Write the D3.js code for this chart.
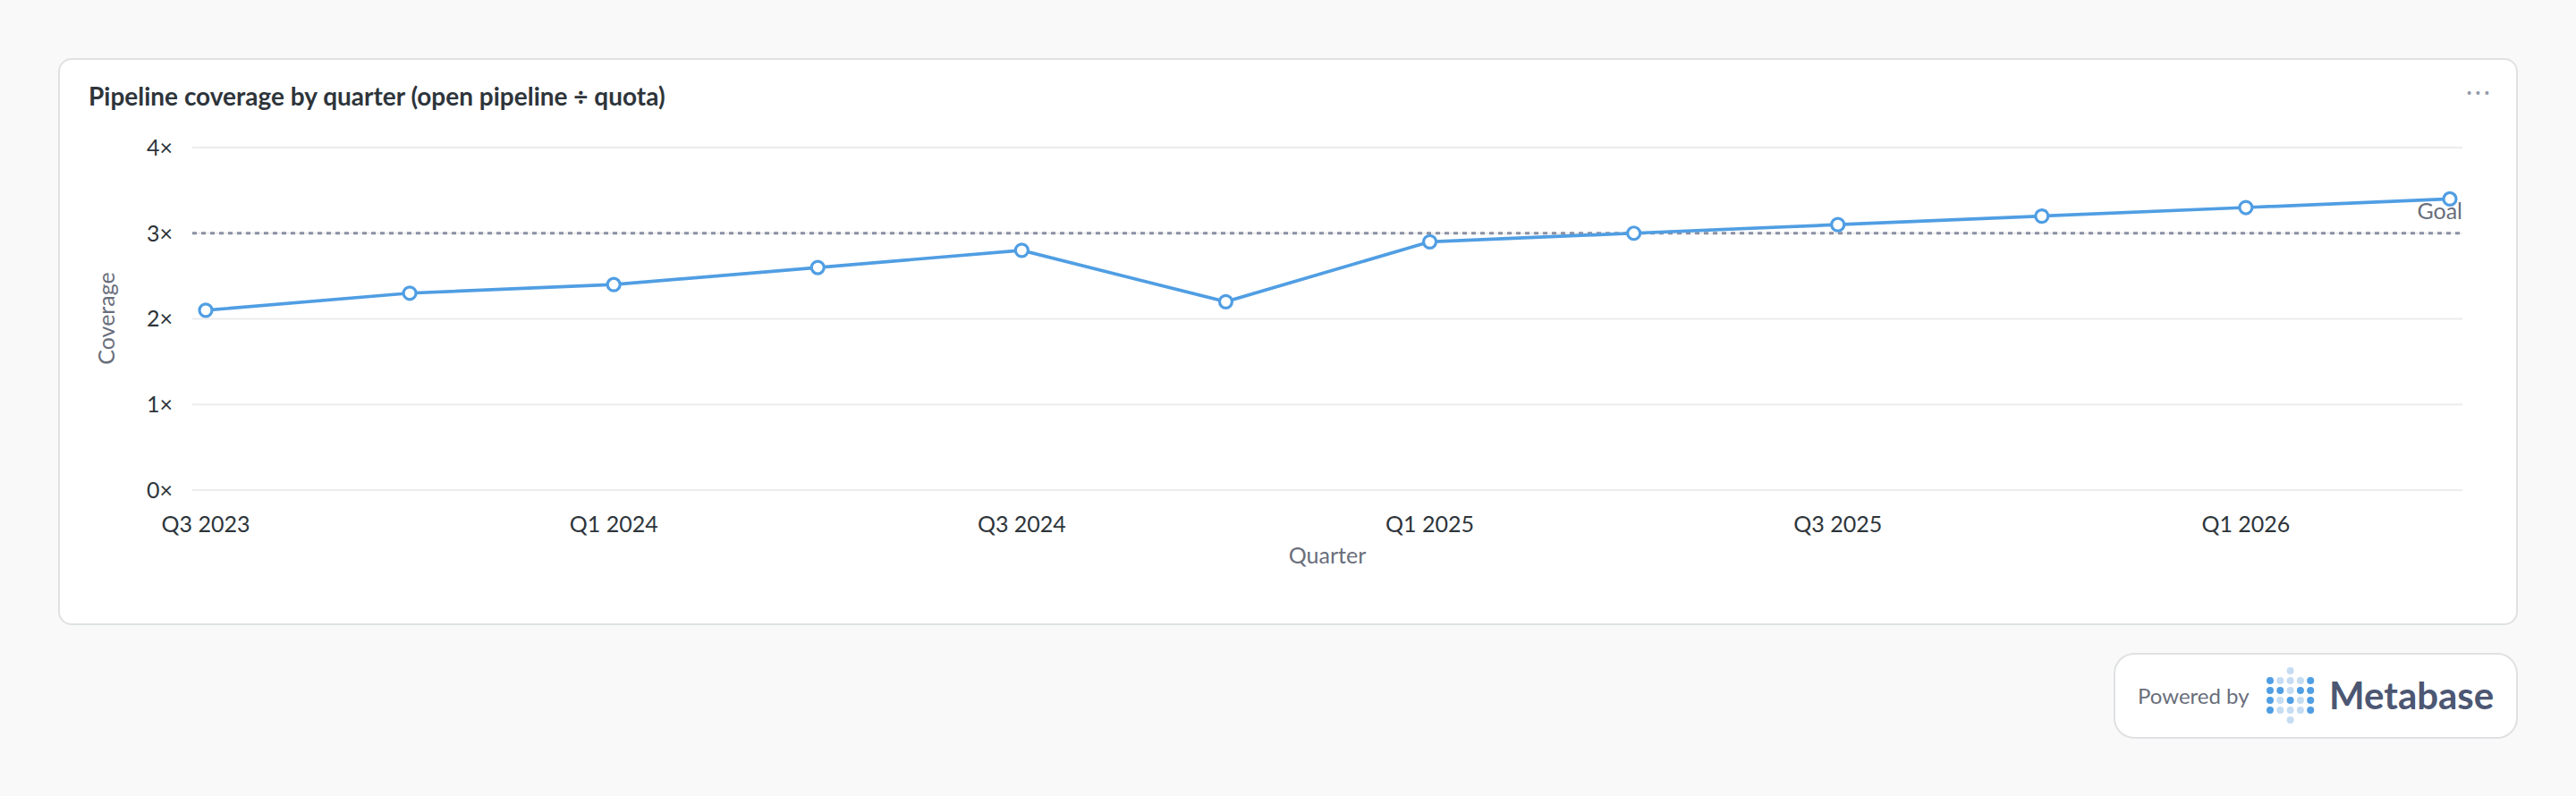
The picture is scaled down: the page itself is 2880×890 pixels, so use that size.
<!DOCTYPE html>
<html>
<head>
<meta charset="utf-8">
<script src="https://cdn.jsdelivr.net/npm/d3@7"></script>
<style>
  body { margin: 0; background: #f9f9f9; font-family: Lato, "Noto Sans", sans-serif; }
</style>
</head>
<body>
<svg id="chart" width="2880" height="890"></svg>
<script>
'use strict';

// data
var quarters = ['Q3 2023', 'Q4 2023', 'Q1 2024', 'Q2 2024', 'Q3 2024', 'Q4 2024',
                'Q1 2025', 'Q2 2025', 'Q3 2025', 'Q4 2025', 'Q1 2026', 'Q2 2026'];
var coverage = [2.1, 2.3, 2.4, 2.6, 2.8, 2.2, 2.9, 3.0, 3.1, 3.2, 3.3, 3.4];
var yTicks = [0, 1, 2, 3, 4];
var goal = 3;

(function() {
var svg = d3.select('#chart');

// card
svg.append('rect')
  .attr('x', 66).attr('y', 66).attr('width', 2748).attr('height', 632)
  .attr('rx', 14).attr('fill', '#fff').attr('stroke', '#dfe1e3').attr('stroke-width', 2);

svg.append('text')
  .attr('x', 99).attr('y', 118)
  .attr('font-size', 28).attr('font-weight', 700).attr('fill', '#2e353b')
  .text('Pipeline coverage by quarter (open pipeline \u00f7 quota)');

svg.append('text')
  .attr('x', 2772).attr('y', 112).attr('text-anchor', 'middle')
  .attr('font-size', 26).attr('fill', '#949aab').attr('letter-spacing', 3)
  .text('\u00b7\u00b7\u00b7');

var plotLeft = 215, plotRight = 2753, plotTop = 165, plotBottom = 548;

var x = d3.scalePoint().domain(quarters).range([230, 2739]);
var y = d3.scaleLinear().domain([0, 4]).range([plotBottom, plotTop]);

// grid
svg.append('g').selectAll('line').data(yTicks).join('line')
  .attr('x1', plotLeft).attr('x2', plotRight)
  .attr('y1', function(d) { return y(d); }).attr('y2', function(d) { return y(d); })
  .attr('stroke', '#ebeced').attr('stroke-width', 2);

svg.append('g').selectAll('text').data(yTicks).join('text')
  .attr('x', 193).attr('y', function(d) { return y(d); }).attr('dy', '0.35em')
  .attr('text-anchor', 'end').attr('font-size', 25).attr('fill', '#2e353b')
  .text(function(d) { return d + '\u00d7'; });

svg.append('g').selectAll('text').data(quarters.filter(function(d, i) { return i % 2 === 0; })).join('text')
  .attr('x', function(d) { return x(d); }).attr('y', 595)
  .attr('text-anchor', 'middle').attr('font-size', 25).attr('fill', '#2e353b')
  .text(function(d) { return d; });

svg.append('text')
  .attr('x', 1484).attr('y', 630).attr('text-anchor', 'middle')
  .attr('font-size', 25).attr('fill', '#696e7b').text('Quarter');

svg.append('text')
  .attr('transform', 'translate(128,356) rotate(-90)').attr('text-anchor', 'middle')
  .attr('font-size', 25).attr('fill', '#696e7b').text('Coverage');

// goal
svg.append('line')
  .attr('x1', plotLeft).attr('x2', plotRight).attr('y1', y(goal)).attr('y2', y(goal))
  .attr('stroke', '#8a90a3').attr('stroke-width', 3).attr('stroke-dasharray', '5,5');
svg.append('text')
  .attr('x', plotRight).attr('y', 245).attr('text-anchor', 'end')
  .attr('font-size', 25).attr('fill', '#696e7b').text('Goal');

// series
var line = d3.line()
  .x(function(d, i) { return x(quarters[i]); })
  .y(function(d) { return y(d); });

svg.append('path').datum(coverage)
  .attr('d', line).attr('fill', 'none')
  .attr('stroke', '#509ee3').attr('stroke-width', 3.7);

svg.append('g').selectAll('circle').data(coverage).join('circle')
  .attr('cx', function(d, i) { return x(quarters[i]); })
  .attr('cy', function(d) { return y(d); })
  .attr('r', 7).attr('fill', '#fff').attr('stroke', '#509ee3').attr('stroke-width', 3.2);

// powered by badge
svg.append('rect')
  .attr('x', 2364).attr('y', 731).attr('width', 450).attr('height', 94)
  .attr('rx', 22).attr('fill', '#fff').attr('stroke', '#dfe1e3').attr('stroke-width', 2);
svg.append('text')
  .attr('x', 2390).attr('y', 787).attr('font-size', 24).attr('fill', '#696e7b')
  .text('Powered by');

var logoRows = ['..L..', 'DLLLD', 'DDLDD', 'DLDLD', 'DLLLD', '..L..'];
logoRows.forEach(function(row, r) {
  row.split('').forEach(function(c, k) {
    if (c === '.') return;
    svg.append('circle')
      .attr('cx', 2538 + k * 11.3).attr('cy', 750 + r * 11)
      .attr('r', 4).attr('fill', c === 'D' ? '#509ee3' : '#c5dcf3');
  });
});
svg.append('text')
  .attr('x', 2604).attr('y', 793).attr('font-size', 42).attr('font-weight', 700)
  .attr('fill', '#4c5773').text('Metabase');
})();
</script>
</body>
</html>
